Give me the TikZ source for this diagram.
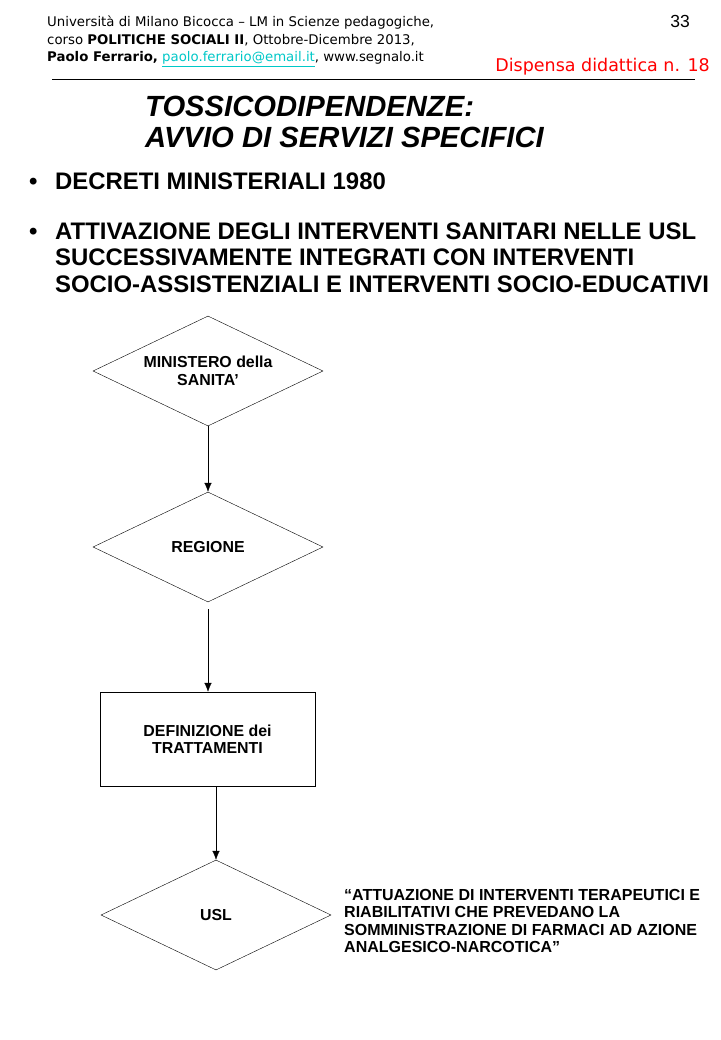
\documentclass[tikz,border=0pt]{standalone}
\usepackage{fontspec}
\setmainfont{Liberation Sans}
\newfontfamily\hdrfont{DejaVu Sans}
\usetikzlibrary{shapes.geometric,positioning,arrows.meta}
\definecolor{linkcyan}{RGB}{0,200,200}
\definecolor{dispred}{RGB}{255,0,0}
\tikzset{
  hdr/.style={anchor=base west, inner sep=0pt, font=\hdrfont\fontsize{13.3}{15}\selectfont},
  bigtitle/.style={anchor=base west, inner sep=0pt, font=\fontsize{29.2}{33}\selectfont\bfseries\itshape},
  bulletline/.style={anchor=base west, inner sep=0pt, font=\fontsize{23.9}{27}\selectfont\bfseries},
  choice/.style={draw, diamond, inner sep=0pt, shape aspect=2.09, minimum width=230pt, minimum height=110pt, align=center, font=\fontsize{15.9}{17.5}\selectfont\bfseries},
  stepbox/.style={draw, rectangle, inner sep=0pt, minimum width=215pt, minimum height=94pt, align=center, font=\fontsize{15.9}{17.5}\selectfont\bfseries},
  flow/.style={-{Latex[length=9pt,width=7.5pt]}, thin}
}
\begin{document}
\begin{tikzpicture}[x=1pt, y=-1pt, every node/.style={text=black}]
  \useasboundingbox[fill=white] (0,0) rectangle (720,1040);

  % header
  \node[hdr] (hdr1) at (47,27) {Università di Milano Bicocca – LM in Scienze pedagogiche,};
  \node[hdr] (hdr2) at (47,45) {corso \textbf{POLITICHE SOCIALI II}, Ottobre-Dicembre 2013,};
  \node[hdr] (hdr3) at (47,62) {\textbf{Paolo Ferrario,} \textcolor{linkcyan}{\underline{paolo.ferrario@email.it}}, www.segnalo.it};
  \node[anchor=base east, inner sep=0pt, font=\fontsize{17.5}{19}\selectfont] (pagenum) at (690,28) {33};
  \node[anchor=base east, inner sep=0pt, text=dispred, font=\hdrfont\fontsize{17.5}{19}\selectfont] (dispensa) at (710,72) {Dispensa didattica n. 18};
  \draw (52,79) -- (695,79);

  % title and bullets
  \node[bigtitle] (title1) at (145,117) {TOSSICODIPENDENZE:};
  \node[bigtitle] (title2) at (145,148) {AVVIO DI SERVIZI SPECIFICI};
  \node[bulletline] (dot1) at (29,190) {\textbullet};
  \node[bulletline] (decreti) at (55,190) {DECRETI MINISTERIALI 1980};
  \node[bulletline] (dot2) at (29,240) {\textbullet};
  \node[bulletline] (attiv1) at (55,240) {ATTIVAZIONE DEGLI INTERVENTI SANITARI NELLE USL};
  \node[bulletline] (attiv2) at (55,266) {SUCCESSIVAMENTE INTEGRATI CON INTERVENTI};
  \node[bulletline] (attiv3) at (55,292) {SOCIO-ASSISTENZIALI E INTERVENTI SOCIO-EDUCATIVI};

  % flow chart
  \node[choice] (ministero) at (208,371) {MINISTERO della\\SANITA’};
  \node[choice] (regione) at (208,547) {REGIONE};
  \node[stepbox] (trattamenti) at (207.5,739) {DEFINIZIONE dei\\TRATTAMENTI};
  \node[choice] (usl) at (216,915) {USL};
  \node[anchor=west, inner sep=0pt, align=left, font=\fontsize{16}{17.5}\selectfont\bfseries] (attuazione) at (344,921)
    {“ATTUAZIONE DI INTERVENTI TERAPEUTICI E\\RIABILITATIVI CHE PREVEDANO LA\\SOMMINISTRAZIONE DI FARMACI AD AZIONE\\ANALGESICO-NARCOTICA”};

  \draw[flow] (ministero.south) -- (regione.north);
  \draw[flow, shorten <=7pt] (regione.south) -- (trattamenti.north -| regione.south);
  \draw[flow] (trattamenti.south -| usl.north) -- (usl.north);
\end{tikzpicture}
\end{document}
